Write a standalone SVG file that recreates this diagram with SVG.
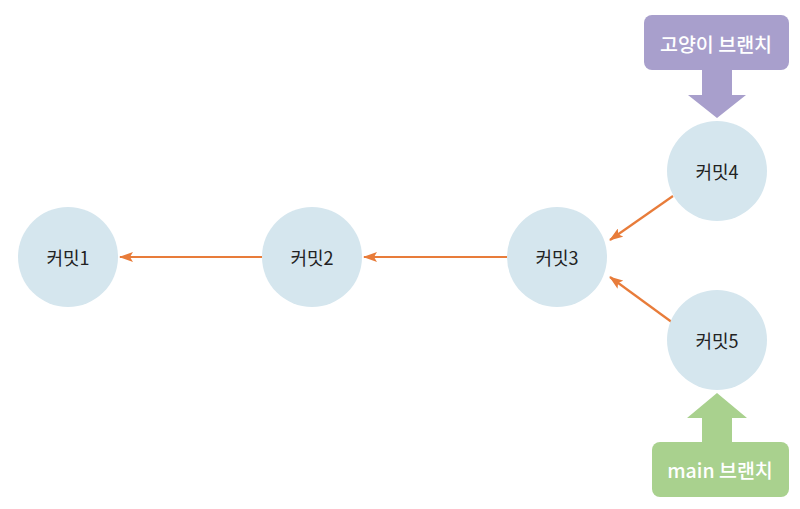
<svg xmlns="http://www.w3.org/2000/svg" width="800" height="509" viewBox="0 0 800 509">
<style>
.node{fill:#d5e6ee}
.t{font-family:"Noto Sans CJK KR","Liberation Sans",sans-serif;font-size:18px;fill:#222;text-anchor:middle;dominant-baseline:central}
.lab{font-family:"Noto Sans CJK KR","Liberation Sans",sans-serif;font-size:19.5px;font-weight:500;fill:#fff;text-anchor:middle;dominant-baseline:central}
.e{stroke:#e87c3a;stroke-width:2.2;fill:none;marker-end:url(#ah)}
</style>
<defs>
<marker id="ah" markerWidth="14" markerHeight="10" refX="13" refY="5" orient="auto" markerUnits="userSpaceOnUse">
<path d="M0,0 L14,5 L0,10 L3,5 Z" fill="#e87c3a"/>
</marker>
</defs>
<rect width="800" height="509" fill="#fff"/>
<g id="connectors">
<line class="e" x1="262" y1="257" x2="120" y2="257"/>
<line class="e" x1="507" y1="257" x2="364" y2="257"/>
<line class="e" x1="673" y1="196" x2="610" y2="240"/>
<line class="e" x1="673" y1="323" x2="610" y2="277"/>
</g>
<g id="commit1"><circle class="node" cx="68" cy="257" r="50"/><text class="t" x="68" y="257">커밋1</text></g>
<g id="commit2"><circle class="node" cx="312" cy="257" r="50"/><text class="t" x="312" y="257">커밋2</text></g>
<g id="commit3"><circle class="node" cx="557" cy="257" r="50"/><text class="t" x="557" y="257">커밋3</text></g>
<g id="commit4"><circle class="node" cx="717" cy="171" r="50"/><text class="t" x="717" y="171">커밋4</text></g>
<g id="commit5"><circle class="node" cx="717" cy="340" r="50"/><text class="t" x="717" y="340">커밋5</text></g>
<g id="cat-branch">
<rect x="644" y="15" width="145" height="55" rx="8" fill="#a89fcc"/>
<path d="M702,69 L732,69 L732,95 L746,95 L717,118 L688,95 L702,95 Z" fill="#a89fcc"/>
<text class="lab" x="716" y="43">고양이 브랜치</text>
</g>
<g id="main-branch">
<rect x="652" y="442" width="137" height="55" rx="8" fill="#a9d18e"/>
<path d="M702,443 L732,443 L732,418 L747,418 L717,393 L687,418 L702,418 Z" fill="#a9d18e"/>
<text class="lab" x="720" y="469">main 브랜치</text>
</g>
</svg>
